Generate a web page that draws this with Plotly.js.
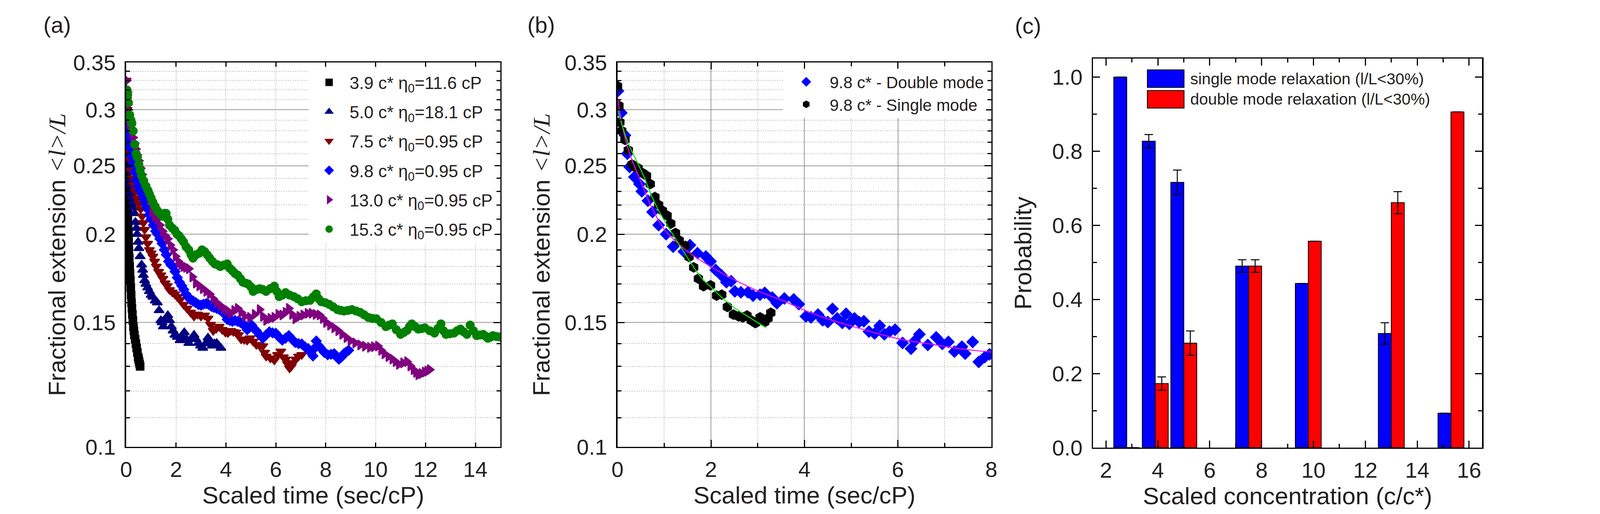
<!DOCTYPE html>
<html>
<head>
<meta charset="utf-8">
<script src="https://cdn.plot.ly/plotly-3.0.1.min.js"></script>
<style>html,body{margin:0;padding:0;background:#fff;}#chart{width:4104px;height:1317px;}</style>
</head>
<body>
<div id="chart"></div>
<script>
// ---------- Panel (a): fractional extension vs scaled time ----------
const a39x = [0, 0.005, 0.01, 0.012, 0.015, 0.018, 0.02, 0.022, 0.025, 0.028, 0.03, 0.033, 0.036, 0.04, 0.043, 0.047, 0.05, 0.055, 0.06, 0.065, 0.07, 0.08, 0.09, 0.1, 0.11, 0.125, 0.14, 0.155, 0.17, 0.185, 0.2, 0.215, 0.23, 0.25, 0.27, 0.29, 0.31, 0.33, 0.36, 0.39, 0.42, 0.45, 0.48, 0.5, 0.52, 0.54, 0.56];
const a39y = [0.31, 0.305, 0.30, 0.295, 0.29, 0.285, 0.28, 0.275, 0.27, 0.265, 0.26, 0.255, 0.25, 0.245, 0.24, 0.235, 0.23, 0.225, 0.22, 0.215, 0.21, 0.205, 0.20, 0.195, 0.19, 0.185, 0.18, 0.176, 0.172, 0.168, 0.164, 0.16, 0.157, 0.154, 0.151, 0.148, 0.146, 0.144, 0.142, 0.14, 0.138, 0.136, 0.134, 0.133, 0.132, 0.131, 0.13];

const a50x = [0, 0.01, 0.02, 0.03, 0.04, 0.05, 0.06, 0.08, 0.1, 0.13, 0.16, 0.2, 0.24, 0.27, 0.31, 0.34, 0.37, 0.41, 0.44, 0.48, 0.51, 0.56, 0.62, 0.66, 0.69, 0.74, 0.79, 0.86, 0.93, 1.0, 1.07, 1.16, 1.25, 1.32, 1.39, 1.44, 1.49, 1.58, 1.67, 1.74, 1.81, 1.88, 1.95, 2.05, 2.16, 2.25, 2.33, 2.42, 2.51, 2.62, 2.72, 2.8, 2.89, 2.98, 3.07, 3.18, 3.28, 3.36, 3.45, 3.54, 3.63, 3.72, 3.8];
const a50y = [0.31, 0.3, 0.29, 0.283, 0.276, 0.27, 0.262, 0.255, 0.247, 0.24, 0.235, 0.23, 0.226, 0.222, 0.218, 0.214, 0.208, 0.204, 0.2, 0.195, 0.191, 0.186, 0.181, 0.178, 0.175, 0.172, 0.17, 0.168, 0.166, 0.164, 0.163, 0.161, 0.16, 0.156, 0.151, 0.15, 0.148, 0.151, 0.1535, 0.151, 0.148, 0.146, 0.144, 0.143, 0.1415, 0.143, 0.1452, 0.142, 0.1402, 0.142, 0.144, 0.142, 0.1402, 0.139, 0.138, 0.14, 0.1427, 0.141, 0.139, 0.14, 0.1402, 0.139, 0.138];

const a75x = [0, 0.02, 0.04, 0.07, 0.1, 0.13, 0.16, 0.2, 0.25, 0.3, 0.37, 0.44, 0.51, 0.58, 0.64, 0.69, 0.74, 0.79, 0.86, 0.93, 1.0, 1.07, 1.14, 1.21, 1.3, 1.39, 1.47, 1.56, 1.65, 1.74, 1.85, 1.95, 2.05, 2.16, 2.3, 2.44, 2.58, 2.72, 2.86, 3.0, 3.14, 3.28, 3.38, 3.49, 3.61, 3.73, 3.85, 3.98, 4.08, 4.19, 4.3, 4.4, 4.5, 4.61, 4.73, 4.85, 4.96, 5.09, 5.22, 5.35, 5.48, 5.55, 5.61, 5.78, 5.94, 6.07, 6.2, 6.3, 6.39, 6.47, 6.55, 6.62, 6.68, 6.8, 6.91, 7.04];
const a75y = [0.33, 0.31, 0.3, 0.282, 0.271, 0.261, 0.255, 0.246, 0.24, 0.235, 0.23, 0.225, 0.221, 0.217, 0.212, 0.2075, 0.203, 0.198, 0.194, 0.19, 0.188, 0.186, 0.183, 0.18, 0.177, 0.175, 0.173, 0.1705, 0.169, 0.1668, 0.1655, 0.1645, 0.163, 0.1615, 0.159, 0.157, 0.155, 0.153, 0.154, 0.153, 0.1535, 0.152, 0.149, 0.146, 0.147, 0.148, 0.1465, 0.1452, 0.145, 0.146, 0.1455, 0.1452, 0.144, 0.142, 0.1418, 0.1415, 0.1425, 0.141, 0.1395, 0.139, 0.1389, 0.136, 0.1343, 0.1335, 0.1326, 0.135, 0.1365, 0.134, 0.133, 0.131, 0.1292, 0.130, 0.1315, 0.133, 0.1343, 0.135];

const a98x = [0, 0.02, 0.04, 0.06, 0.09, 0.12, 0.16, 0.21, 0.27, 0.34, 0.41, 0.48, 0.55, 0.63, 0.72, 0.79, 0.86, 0.93, 1.0, 1.09, 1.18, 1.26, 1.35, 1.44, 1.53, 1.61, 1.7, 1.79, 1.88, 1.96, 2.05, 2.14, 2.23, 2.31, 2.4, 2.49, 2.58, 2.69, 2.79, 2.9, 3.0, 3.1, 3.21, 3.31, 3.42, 3.52, 3.63, 3.73, 3.84, 3.95, 4.05, 4.15, 4.26, 4.36, 4.47, 4.58, 4.68, 4.77, 4.85, 4.94, 5.03, 5.12, 5.22, 5.35, 5.48, 5.61, 5.74, 5.87, 6.0, 6.13, 6.26, 6.39, 6.52, 6.65, 6.78, 6.91, 7.04, 7.17, 7.3, 7.4, 7.49, 7.56, 7.62, 7.72, 7.82, 7.95, 8.08, 8.21, 8.34, 8.44, 8.53, 8.63, 8.73, 8.82, 8.92];
const a98y = [0.32, 0.305, 0.291, 0.283, 0.276, 0.27, 0.265, 0.258, 0.252, 0.245, 0.2385, 0.234, 0.231, 0.228, 0.224, 0.22, 0.217, 0.213, 0.21, 0.206, 0.202, 0.2, 0.197, 0.194, 0.19, 0.187, 0.183, 0.181, 0.18, 0.177, 0.1736, 0.171, 0.169, 0.167, 0.1645, 0.163, 0.1615, 0.1608, 0.16, 0.159, 0.1587, 0.1592, 0.1595, 0.159, 0.158, 0.1575, 0.157, 0.1565, 0.156, 0.154, 0.1515, 0.151, 0.1505, 0.151, 0.1505, 0.15, 0.1495, 0.148, 0.1465, 0.1475, 0.1487, 0.147, 0.146, 0.144, 0.1425, 0.144, 0.1455, 0.145, 0.1448, 0.143, 0.1416, 0.1425, 0.1437, 0.142, 0.1405, 0.14, 0.1398, 0.1385, 0.1377, 0.136, 0.1345, 0.138, 0.1412, 0.139, 0.1377, 0.136, 0.135, 0.1352, 0.1355, 0.134, 0.1331, 0.134, 0.1355, 0.1362, 0.137];

const a130x = [0.02, 0.05, 0.07, 0.1, 0.13, 0.18, 0.23, 0.28, 0.34, 0.39, 0.44, 0.51, 0.58, 0.64, 0.69, 0.77, 0.86, 0.95, 1.04, 1.14, 1.25, 1.35, 1.46, 1.56, 1.67, 1.77, 1.88, 1.98, 2.09, 2.2, 2.3, 2.4, 2.51, 2.65, 2.79, 2.93, 3.07, 3.21, 3.35, 3.49, 3.63, 3.77, 3.91, 4.05, 4.19, 4.33, 4.47, 4.61, 4.75, 4.96, 5.15, 5.35, 5.48, 5.61, 5.78, 5.94, 6.1, 6.26, 6.39, 6.52, 6.65, 6.78, 6.94, 7.1, 7.27, 7.43, 7.59, 7.75, 7.88, 8.01, 8.17, 8.34, 8.5, 8.66, 8.83, 8.99, 9.18, 9.38, 9.57, 9.77, 9.93, 10.09, 10.22, 10.35, 10.51, 10.67, 10.8, 10.93, 11.1, 11.26, 11.39, 11.52, 11.62, 11.71, 11.84, 11.97, 12.07, 12.17];
const a130y = [0.33, 0.318, 0.305, 0.295, 0.287, 0.283, 0.279, 0.274, 0.269, 0.264, 0.259, 0.254, 0.248, 0.243, 0.2385, 0.235, 0.231, 0.223, 0.215, 0.212, 0.21, 0.206, 0.202, 0.199, 0.197, 0.193, 0.19, 0.186, 0.183, 0.181, 0.18, 0.1795, 0.1787, 0.174, 0.1705, 0.169, 0.1675, 0.166, 0.1645, 0.162, 0.16, 0.1585, 0.157, 0.156, 0.1545, 0.156, 0.157, 0.155, 0.153, 0.1525, 0.154, 0.1564, 0.153, 0.151, 0.152, 0.1525, 0.154, 0.1537, 0.155, 0.157, 0.154, 0.1518, 0.153, 0.1537, 0.1545, 0.1545, 0.154, 0.1537, 0.152, 0.15, 0.1487, 0.1474, 0.146, 0.1443, 0.1428, 0.1413, 0.1403, 0.1394, 0.1388, 0.1383, 0.1386, 0.1389, 0.137, 0.1354, 0.1342, 0.1331, 0.132, 0.1309, 0.1315, 0.132, 0.1302, 0.1286, 0.1275, 0.1265, 0.127, 0.1276, 0.128, 0.1286];

const a153x = [0.03, 0.06, 0.09, 0.14, 0.19, 0.23, 0.28, 0.34, 0.4, 0.45, 0.51, 0.56, 0.62, 0.7, 0.79, 0.86, 0.93, 1.0, 1.07, 1.16, 1.25, 1.35, 1.46, 1.53, 1.6, 1.67, 1.74, 1.85, 1.95, 2.04, 2.12, 2.21, 2.3, 2.4, 2.51, 2.6, 2.68, 2.8, 2.93, 3.04, 3.14, 3.25, 3.35, 3.46, 3.56, 3.67, 3.77, 3.91, 4.05, 4.15, 4.26, 4.36, 4.47, 4.58, 4.68, 4.79, 4.89, 5.0, 5.09, 5.22, 5.35, 5.48, 5.61, 5.78, 5.94, 6.04, 6.13, 6.26, 6.39, 6.55, 6.72, 6.88, 7.04, 7.2, 7.37, 7.5, 7.62, 7.72, 7.82, 7.98, 8.14, 8.3, 8.47, 8.6, 8.73, 8.89, 9.05, 9.22, 9.38, 9.54, 9.7, 9.86, 10.03, 10.22, 10.41, 10.54, 10.67, 10.83, 11.0, 11.13, 11.26, 11.36, 11.45, 11.58, 11.71, 11.84, 11.97, 12.17, 12.36, 12.49, 12.62, 12.72, 12.82, 12.98, 13.14, 13.27, 13.4, 13.53, 13.66, 13.79, 13.92, 14.05, 14.18, 14.31, 14.4, 14.5, 14.6, 14.7, 14.83, 14.96];
const a153y = [0.32, 0.315, 0.307, 0.295, 0.29, 0.287, 0.28, 0.268, 0.26, 0.257, 0.251, 0.246, 0.242, 0.238, 0.234, 0.231, 0.228, 0.225, 0.222, 0.219, 0.216, 0.214, 0.212, 0.214, 0.214, 0.21, 0.206, 0.204, 0.2025, 0.2, 0.199, 0.197, 0.195, 0.192, 0.19, 0.187, 0.185, 0.187, 0.188, 0.19, 0.189, 0.187, 0.185, 0.183, 0.1815, 0.181, 0.18, 0.1808, 0.1815, 0.179, 0.1775, 0.176, 0.175, 0.173, 0.171, 0.1705, 0.17, 0.1685, 0.166, 0.167, 0.1674, 0.167, 0.166, 0.1675, 0.1688, 0.166, 0.1632, 0.164, 0.1653, 0.164, 0.1632, 0.162, 0.1605, 0.161, 0.1612, 0.163, 0.1646, 0.162, 0.1605, 0.16, 0.1591, 0.1578, 0.1564, 0.156, 0.1557, 0.156, 0.1564, 0.1557, 0.155, 0.1538, 0.1525, 0.152, 0.1518, 0.15, 0.148, 0.1487, 0.1493, 0.1465, 0.1443, 0.1452, 0.1462, 0.148, 0.1493, 0.148, 0.1468, 0.147, 0.1474, 0.146, 0.1449, 0.147, 0.1493, 0.146, 0.1443, 0.1446, 0.1449, 0.146, 0.1468, 0.1455, 0.1443, 0.1487, 0.146, 0.1437, 0.144, 0.1443, 0.1435, 0.1425, 0.143, 0.1437, 0.1433, 0.1431];

const seriesNamesA = [
  '3.9 c* η<sub>0</sub>=11.6 cP',
  '5.0 c* η<sub>0</sub>=18.1 cP',
  '7.5 c* η<sub>0</sub>=0.95 cP',
  '9.8 c* η<sub>0</sub>=0.95 cP',
  '13.0 c* η<sub>0</sub>=0.95 cP',
  '15.3 c* η<sub>0</sub>=0.95 cP'
];

// ---------- Panel (b): 9.8 c* double vs single mode ----------
const bDoubleX = [0.01, 0.08, 0.16, 0.21, 0.26, 0.36, 0.47, 0.52, 0.65, 0.75, 0.88, 1.04, 1.19, 1.42, 1.55, 1.71, 1.89, 1.99, 2.1, 2.22, 2.33, 2.43, 2.51, 2.64, 2.79, 2.9, 3.05, 3.15, 3.31, 3.41, 3.57, 3.77, 3.88, 4.03, 4.14, 4.29, 4.39, 4.5, 4.6, 4.7, 4.81, 4.89, 4.96, 5.07, 5.17, 5.27, 5.38, 5.5, 5.61, 5.71, 5.82, 5.94, 6.1, 6.28, 6.36, 6.46, 6.64, 6.82, 6.95, 7.08, 7.21, 7.37, 7.44, 7.6, 7.73, 7.86, 7.96];
const bDoubleY = [0.319, 0.297, 0.276, 0.26, 0.249, 0.241, 0.2355, 0.23, 0.223, 0.215, 0.206, 0.2, 0.192, 0.189, 0.193, 0.188, 0.186, 0.183, 0.178, 0.175, 0.171, 0.1716, 0.166, 0.1655, 0.1655, 0.1637, 0.1642, 0.1652, 0.1627, 0.1597, 0.1622, 0.1617, 0.1592, 0.153, 0.1525, 0.1539, 0.1511, 0.1502, 0.1568, 0.152, 0.1498, 0.1543, 0.1493, 0.152, 0.1502, 0.1506, 0.1456, 0.1447, 0.1484, 0.1443, 0.1456, 0.1465, 0.1403, 0.1377, 0.1412, 0.1443, 0.1394, 0.1429, 0.1399, 0.1408, 0.1364, 0.1386, 0.1355, 0.1408, 0.1319, 0.134, 0.1352];
const bSingleX = [0, 0.03, 0.05, 0.09, 0.16, 0.23, 0.31, 0.37, 0.44, 0.54, 0.62, 0.7, 0.8, 0.88, 0.96, 1.06, 1.14, 1.24, 1.32, 1.45, 1.53, 1.63, 1.73, 1.84, 1.99, 2.12, 2.23, 2.35, 2.48, 2.59, 2.68, 2.77, 2.86, 2.95, 3.05, 3.15, 3.22, 3.28];
const bSingleY = [0.324, 0.304, 0.288, 0.28, 0.272, 0.263, 0.251, 0.249, 0.248, 0.244, 0.242, 0.2355, 0.2257, 0.22, 0.216, 0.2125, 0.207, 0.2008, 0.196, 0.1925, 0.1857, 0.1795, 0.173, 0.1688, 0.1693, 0.1637, 0.1642, 0.1578, 0.1539, 0.153, 0.1525, 0.1534, 0.151, 0.1497, 0.1525, 0.1502, 0.152, 0.1548];
const bFitDoubleX = [0, 0.1, 0.26, 0.47, 0.72, 0.98, 1.19, 1.5, 2.02, 2.53, 3.05, 3.57, 4.08, 4.6, 5.12, 5.63, 6.15, 6.67, 7.19, 7.7, 8.0];
const bFitDoubleY = [0.313, 0.285, 0.26, 0.24, 0.219, 0.204, 0.197, 0.189, 0.1795, 0.172, 0.1657, 0.1607, 0.1553, 0.151, 0.1475, 0.1443, 0.1416, 0.1399, 0.1381, 0.1368, 0.1362];
const bFitSingleX = [0, 0.1, 0.26, 0.42, 0.57, 0.73, 0.88, 1.04, 1.19, 1.35, 1.5, 1.66, 1.81, 2.02, 2.28, 2.53, 2.79, 3.05, 3.18];
const bFitSingleY = [0.301, 0.285, 0.266, 0.253, 0.2408, 0.2265, 0.216, 0.207, 0.1995, 0.192, 0.1851, 0.1784, 0.173, 0.1678, 0.1617, 0.1568, 0.153, 0.1492, 0.1475];

// ---------- Panel (c): relaxation-mode probability ----------
const concentrations = [2.8, 3.9, 5.0, 7.5, 9.8, 13.0, 15.3];
const singleProb = [1.0, 0.827, 0.716, 0.49, 0.443, 0.308, 0.093];
const singleErr = [null, 0.018, 0.033, 0.017, null, 0.029, null];
const doubleProb = [0, 0.173, 0.282, 0.49, 0.557, 0.661, 0.906];
const doubleErr = [null, 0.018, 0.033, 0.017, null, 0.030, null];
const barLegendNames = ['single mode relaxation (l/L&lt;30%)', 'double mode relaxation (l/L&lt;30%)'];

// ---------- Tick values ----------
const logMajorTicks = [0.1, 0.15, 0.2, 0.25, 0.3, 0.35];
const logMajorLabels = ['0.1', '0.15', '0.2', '0.25', '0.3', '0.35'];
const logMinorTicks = [0.11, 0.12, 0.13, 0.14, 0.16, 0.17, 0.18, 0.19, 0.21, 0.22, 0.23, 0.24, 0.26, 0.27, 0.28, 0.29, 0.31, 0.32, 0.33, 0.34];

const FONT = 'Liberation Sans, Arial, Helvetica, sans-serif';
const TXT = '#231f20';
const GRID_SOLID = '#9a9a9a';
const GRID_DOT = '#c4c4c4';
const TITLE_FONT = {family: FONT, size: 62, color: TXT};

function frameAxis(extra) {
  return Object.assign({
    showline: true, linecolor: '#000', linewidth: 3.5, mirror: 'allticks',
    ticks: 'inside', tickcolor: '#000', tickwidth: 3, ticklen: 18,
    zeroline: false, ticklabelstandoff: 12,
    tickfont: {family: FONT, size: 56, color: TXT}
  }, extra);
}
function logYAxis(anchor, standoff) {
  return frameAxis({
    type: 'log', anchor: anchor, domain: [0.1306, 0.8785],
    range: [Math.log10(0.1), Math.log10(0.35)],
    tickmode: 'array', tickvals: logMajorTicks, ticktext: logMajorLabels,
    showgrid: true, gridcolor: GRID_SOLID, gridwidth: 2,
    minor: {tickmode: 'array', tickvals: logMinorTicks, ticks: 'inside', ticklen: 10, tickwidth: 3, tickcolor: '#000',
            showgrid: true, gridcolor: GRID_DOT, griddash: 'dot', gridwidth: 2},
    title: {text: 'Fractional extension <i><span style="font-family:Liberation Serif">&lt;l&gt;/L</span></i>',
            font: TITLE_FONT, standoff: standoff}
  });
}

const symbolsA = ['square', 'triangle-up', 'triangle-down', 'diamond', 'triangle-right', 'circle'];
const colorsA = ['#000000', '#000080', '#800000', '#0000ff', '#800080', '#008000'];
const xsA = [a39x, a50x, a75x, a98x, a130x, a153x];
const ysA = [a39y, a50y, a75y, a98y, a130y, a153y];
const sizesA = [19, 22, 22, 19, 22, 20];

const traces = [];
for (let i = 0; i < xsA.length; i++) {
  traces.push({
    type: 'scatter', mode: 'markers', x: xsA[i], y: ysA[i], xaxis: 'x', yaxis: 'y',
    name: seriesNamesA[i], legend: 'legend', legendgroup: 'a' + i,
    marker: {symbol: symbolsA[i], color: colorsA[i], size: sizesA[i], line: {width: 3, color: colorsA[i]}}
  });
}
traces.push({type: 'scatter', mode: 'markers', x: bDoubleX, y: bDoubleY, xaxis: 'x2', yaxis: 'y2',
  name: '9.8 c* - Double mode', legend: 'legend2', legendgroup: 'b1',
  marker: {symbol: 'diamond', color: '#0000ff', size: 22, line: {width: 3, color: '#0000ff'}}});
traces.push({type: 'scatter', mode: 'markers', x: bSingleX, y: bSingleY, xaxis: 'x2', yaxis: 'y2',
  name: '9.8 c* - Single mode', legend: 'legend2', legendgroup: 'b2',
  marker: {symbol: 'hexagon', color: '#000000', size: 24, line: {width: 3, color: '#000000'}}});
traces.push({type: 'scatter', mode: 'lines', x: bFitDoubleX, y: bFitDoubleY, xaxis: 'x2', yaxis: 'y2',
  showlegend: false, name: 'double-mode fit', line: {color: '#ff00ff', width: 2.5, shape: 'spline'}});
traces.push({type: 'scatter', mode: 'lines', x: bFitSingleX, y: bFitSingleY, xaxis: 'x2', yaxis: 'y2',
  showlegend: false, name: 'single-mode fit', line: {color: '#00ee00', width: 2.5, shape: 'spline'}});
traces.push({type: 'bar', x: concentrations, y: singleProb, xaxis: 'x3', yaxis: 'y3',
  name: 'single mode relaxation (l/L<30%)', showlegend: false, width: 0.5, offset: -0.5,
  marker: {color: '#0000ff', line: {color: '#000', width: 2}},
  error_y: {type: 'data', array: singleErr, visible: true, color: '#000', thickness: 2.5, width: 11}});
traces.push({type: 'bar', x: concentrations, y: doubleProb, xaxis: 'x3', yaxis: 'y3',
  name: 'double mode relaxation (l/L<30%)', showlegend: false, width: 0.5, offset: 0,
  marker: {color: '#ff0000', line: {color: '#000', width: 2}},
  error_y: {type: 'data', array: doubleErr, visible: true, color: '#000', thickness: 2.5, width: 11}});

const legendBase = {bgcolor: '#ffffff', borderwidth: 0, xref: 'paper', yref: 'paper',
  xanchor: 'left', yanchor: 'top', itemsizing: 'trace', traceorder: 'grouped'};
const panelLabelFont = {family: FONT, size: 58, color: TXT};

const layout = {
  width: 4104, height: 1317, autosize: false,
  margin: {l: 0, r: 0, t: 0, b: 0, pad: 0},
  paper_bgcolor: '#ffffff', plot_bgcolor: '#ffffff',
  font: {family: FONT, color: TXT},
  barmode: 'overlay',
  xaxis: frameAxis({domain: [0.0787, 0.3121], anchor: 'y', range: [0, 15], tickmode: 'linear', tick0: 0, dtick: 2, ticklen: 11,
    ticklabelstandoff: 6,
    showgrid: true, gridcolor: GRID_DOT, griddash: 'dot', gridwidth: 2,
    title: {text: 'Scaled time (sec/cP)', font: TITLE_FONT, standoff: 4}}),
  xaxis4: {overlaying: 'x', anchor: 'y', side: 'bottom', range: [0, 15], tickmode: 'linear', tick0: 0, dtick: 4,
    ticks: 'inside', ticklen: 18, tickwidth: 3, tickcolor: '#000', showticklabels: false, showline: false,
    mirror: 'allticks', zeroline: false, showgrid: true, gridcolor: GRID_SOLID, gridwidth: 2},
  yaxis: logYAxis('x', 0),
  xaxis2: frameAxis({domain: [0.3852, 0.6184], anchor: 'y2', range: [0, 8], tickmode: 'linear', tick0: 0, dtick: 2,
    ticklabelstandoff: 6,
    showgrid: true, gridcolor: GRID_SOLID, gridwidth: 2,
    minor: {dtick: 1, tick0: 0, ticks: 'inside', ticklen: 10, tickwidth: 3, tickcolor: '#000',
            showgrid: true, gridcolor: GRID_DOT, griddash: 'dot', gridwidth: 2},
    title: {text: 'Scaled time (sec/cP)', font: TITLE_FONT, standoff: 4}}),
  yaxis2: logYAxis('x2', 18),
  xaxis3: frameAxis({domain: [0.6818, 0.9245], anchor: 'y3', range: [1.5, 16.5], tickmode: 'linear', tick0: 0, dtick: 2,
    ticklabelstandoff: 6, showgrid: false,
    minor: {dtick: 1, tick0: 0, ticks: 'inside', ticklen: 10, tickwidth: 3, tickcolor: '#000', showgrid: false},
    title: {text: 'Scaled concentration (c/c*)', font: TITLE_FONT, standoff: 4}}),
  yaxis3: frameAxis({domain: [0.1291, 0.8861], anchor: 'x3', range: [0, 1.05], tickmode: 'linear', tick0: 0, dtick: 0.2,
    tickformat: '.1f', showgrid: false,
    minor: {dtick: 0.1, tick0: 0, ticks: 'inside', ticklen: 10, tickwidth: 3, tickcolor: '#000', showgrid: false},
    title: {text: 'Probability', font: TITLE_FONT, standoff: 34}}),
  legend: Object.assign({}, legendBase, {x: 0.1925, y: 0.8665, itemwidth: 95,
    font: {family: FONT, size: 44, color: TXT}, tracegroupgap: 15}),
  legend2: Object.assign({}, legendBase, {x: 0.4883, y: 0.8665, itemwidth: 110,
    font: {family: FONT, size: 42, color: TXT}, tracegroupgap: 0}),
  shapes: [
    {type: 'rect', xref: 'paper', yref: 'paper', x0: 0.7157, x1: 0.7386, y0: 0.8299, y1: 0.8641,
     fillcolor: '#0000ff', line: {color: '#000', width: 2}},
    {type: 'rect', xref: 'paper', yref: 'paper', x0: 0.7157, x1: 0.7386, y0: 0.7897, y1: 0.8238,
     fillcolor: '#ff0000', line: {color: '#000', width: 2}}
  ],
  annotations: [
    {text: '(a)', xref: 'paper', yref: 'paper', x: 0.0358, y: 0.952, xanchor: 'center', yanchor: 'middle',
     showarrow: false, font: panelLabelFont},
    {text: '(b)', xref: 'paper', yref: 'paper', x: 0.3375, y: 0.952, xanchor: 'center', yanchor: 'middle',
     showarrow: false, font: panelLabelFont},
    {text: '(c)', xref: 'paper', yref: 'paper', x: 0.6413, y: 0.95, xanchor: 'center', yanchor: 'middle',
     showarrow: false, font: panelLabelFont},
    {text: barLegendNames[0], xref: 'paper', yref: 'paper', x: 0.742, y: 0.8466, xanchor: 'left', yanchor: 'middle',
     showarrow: false, font: {family: FONT, size: 41, color: TXT}},
    {text: barLegendNames[1], xref: 'paper', yref: 'paper', x: 0.742, y: 0.8071, xanchor: 'left', yanchor: 'middle',
     showarrow: false, font: {family: FONT, size: 41, color: TXT}}
  ]
};

Plotly.newPlot('chart', traces, layout, {displayModeBar: false, staticPlot: true});
</script>
</body>
</html>
